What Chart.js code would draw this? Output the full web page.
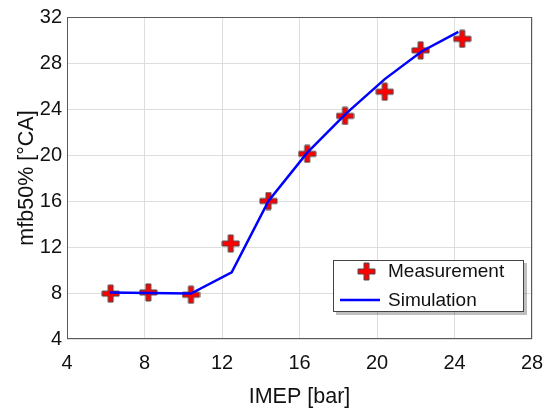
<!DOCTYPE html>
<html>
<head>
<meta charset="utf-8">
<script src="https://cdn.jsdelivr.net/npm/chart.js@4.4.1/dist/chart.umd.min.js"></script>
<style>
  html, body { margin: 0; padding: 0; background: #fff; }
  #wrap { width: 545px; height: 412px; }
</style>
</head>
<body>
<div id="wrap"><canvas id="c" width="545" height="412"></canvas></div>
<script>
// measured points
const measImep = [6.25, 8.2, 10.4, 12.45, 14.4, 16.4, 18.35, 20.4, 22.25, 24.4];
const measMfb  = [7.95, 8.05, 7.85, 12.3, 16.0, 20.1, 23.4, 25.5, 29.1, 30.1];
// simulated curve
const simImep = [6.2, 8.2, 10.4, 12.5, 14.4, 16.4, 18.4, 20.4, 22.3, 24.2];
const simMfb  = [8.05, 8.0, 7.95, 9.8, 16.0, 20.2, 23.6, 26.6, 29.0, 30.7];
const xTicks = [4, 8, 12, 16, 20, 24, 28];
const yTicks = [4, 8, 12, 16, 20, 24, 28, 32];

const FONT = 'Liberation Sans, Arial, sans-serif';

// thick red plus with dark outline
function plusMarker(size, arm) {
    const cv = document.createElement('canvas');
    cv.width = size + 2; cv.height = size + 2;
    const g = cv.getContext('2d');
    const o = 1, a = (size - arm) / 2;
    g.beginPath();
    g.moveTo(o + a, o);
    g.lineTo(o + a + arm, o);
    g.lineTo(o + a + arm, o + a);
    g.lineTo(o + size, o + a);
    g.lineTo(o + size, o + a + arm);
    g.lineTo(o + a + arm, o + a + arm);
    g.lineTo(o + a + arm, o + size);
    g.lineTo(o + a, o + size);
    g.lineTo(o + a, o + a + arm);
    g.lineTo(o, o + a + arm);
    g.lineTo(o, o + a);
    g.lineTo(o + a, o + a);
    g.closePath();
    g.fillStyle = '#ff0000';
    g.fill();
    g.lineWidth = 1;
    g.strokeStyle = '#4a4a4a';
    g.stroke();
    return cv;
}
const plus = plusMarker(17, 5);

const frame = {
    id: 'frame',
    afterDraw(chart) {
        const a = chart.chartArea, g = chart.ctx;
        g.save();
        g.strokeStyle = '#5a5a5a';
        g.lineWidth = 1;
        g.strokeRect(a.left + 0.5, a.top + 0.5, a.right - a.left - 1, a.bottom - a.top - 1);
        g.restore();
    }
};

// boxed legend in the lower right of the plot
const boxLegend = {
    id: 'boxLegend',
    afterDraw(chart) {
        const a = chart.chartArea, g = chart.ctx;
        const w = 191, h = 52;
        const x = Math.round(a.right - 8 - w), y = Math.round(a.bottom - 27 - h);
        g.save();
        g.fillStyle = 'rgba(0,0,0,0.25)';
        g.fillRect(x + 3, y + 3, w, h);
        g.fillStyle = '#fff';
        g.fillRect(x, y, w, h);
        g.strokeStyle = '#444';
        g.lineWidth = 1;
        g.strokeRect(x + 0.5, y + 0.5, w - 1, h - 1);
        const ds = chart.data.datasets;
        const meas = ds.find(d => d.label === 'Measurement');
        const sim = ds.find(d => d.label === 'Simulation');
        g.font = '19px ' + FONT;
        g.fillStyle = '#111';
        g.textBaseline = 'middle';
        g.drawImage(plus, x + 24, y + 2);
        g.fillText(meas.label, x + 55, y + 12);
        g.strokeStyle = sim.borderColor;
        g.lineWidth = 2.5;
        g.beginPath();
        g.moveTo(x + 7, y + 40);
        g.lineTo(x + 47, y + 40);
        g.stroke();
        g.fillText(sim.label, x + 55, y + 41);
        g.restore();
    }
};

new Chart(document.getElementById('c'), {
    type: 'scatter',
    data: {
        datasets: [{
            label: 'Measurement',
            data: measImep.map((v, i) => ({ x: v, y: measMfb[i] })),
            pointStyle: plus,
            showLine: false,
            order: 1
        }, {
            label: 'Simulation',
            data: simImep.map((v, i) => ({ x: v, y: simMfb[i] })),
            showLine: true,
            borderColor: '#0000ff',
            borderWidth: 2.5,
            pointRadius: 0,
            tension: 0,
            order: 0
        }]
    },
    options: {
        responsive: false,
        animation: false,
        layout: { padding: { left: 0, top: 7, right: 13, bottom: 0 } },
        plugins: { legend: { display: false }, tooltip: { enabled: false } },
        scales: {
            x: {
                type: 'linear',
                min: 4, max: 28,
                afterBuildTicks: s => { s.ticks = xTicks.map(v => ({ value: v })); },
                afterFit: s => { s.height = 73; s.paddingLeft = 0; s.paddingRight = 0; },
                grid: { color: '#dedede', drawTicks: false },
                border: { display: false },
                ticks: { color: '#111', padding: 12, font: { family: FONT, size: 20 } },
                title: {
                    display: true, text: 'IMEP [bar]', color: '#111',
                    font: { family: FONT, size: 21.5 }, padding: { top: 8, bottom: 2 }
                }
            },
            y: {
                type: 'linear',
                min: 4, max: 32,
                afterBuildTicks: s => { s.ticks = yTicks.map(v => ({ value: v })); },
                afterFit: s => { s.width = 67; },
                grid: { color: '#dedede', drawTicks: false },
                border: { display: false },
                ticks: { color: '#111', padding: 5, font: { family: FONT, size: 20 } },
                title: {
                    display: true, text: 'mfb50% [°CA]', color: '#111',
                    font: { family: FONT, size: 21.5 }, padding: { top: 14, bottom: 4 }
                }
            }
        }
    },
    plugins: [frame, boxLegend]
});
</script>
</body>
</html>
